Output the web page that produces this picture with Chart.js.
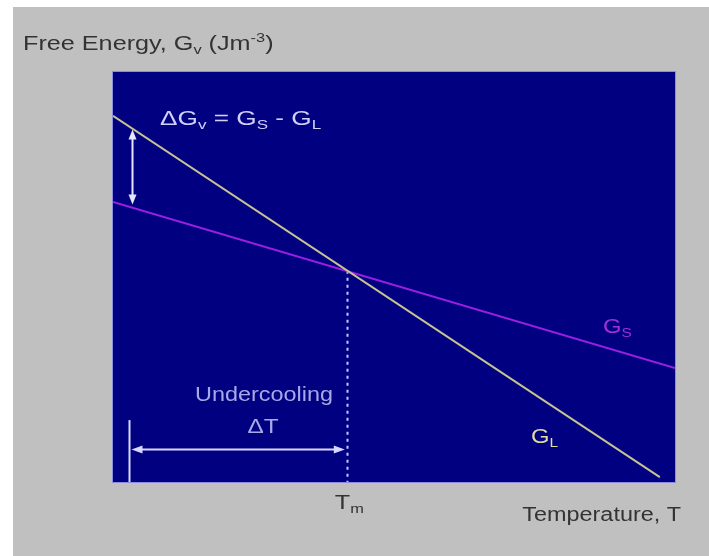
<!DOCTYPE html>
<html>
<head>
<meta charset="utf-8">
<script src="https://cdn.jsdelivr.net/npm/chart.js@4/dist/chart.umd.min.js"></script>
<style>
  html, body { margin: 0; padding: 0; background: #ffffff; }
  canvas { display: block; }
</style>
</head>
<body>
<canvas id="c" width="709" height="556"></canvas>
<script>
// ---- data (temperature axis 0..100, free energy axis 0..100, arbitrary units) ----
const liquidT = [0, 97.3];
const liquidG = [89.3, 1.2];
const solidT = [0, 100];
const solidG = [68.3, 27.8];
const meltingT = 41.6;          // Tm
const meltingG = 51.5;          // G at Tm (where the two lines cross)
const undercoolT = 2.85;        // temperature of the undercooled state
const deltaGT = 3.4;            // temperature at which ΔGv arrow is drawn
const axisLabels = { y: 'Free Energy, ', x: 'Temperature, T' };

const toPts = (xs, ys) => xs.map((x, i) => ({ x: x, y: ys[i] }));
const lineAt = (xs, ys, t) => ys[0] + (ys[1] - ys[0]) * (t - xs[0]) / (xs[1] - xs[0]);

const FONT = '"Liberation Sans", Arial, sans-serif';

function rich(ctx, parts, x, y, align, color, size, k) {
  k = k || 1;
  const sub = Math.round(size * 0.66);
  let w = 0;
  parts.forEach(p => {
    ctx.font = (p.s ? sub : size) + 'px ' + FONT;
    p.w = ctx.measureText(p.t).width * k;
    w += p.w;
  });
  let cx = align === 'center' ? x - w / 2 : (align === 'right' ? x - w : x);
  ctx.fillStyle = color;
  ctx.textAlign = 'left';
  ctx.textBaseline = 'alphabetic';
  parts.forEach(p => {
    ctx.font = (p.s ? sub : size) + 'px ' + FONT;
    let dy = 0;
    if (p.s === 'sub') dy = size * 0.22;
    if (p.s === 'sup') dy = -size * 0.42;
    ctx.save();
    ctx.translate(cx, y + dy);
    ctx.scale(k, 1);
    ctx.fillText(p.t, 0, 0);
    ctx.restore();
    cx += p.w;
  });
}

function arrowHead(ctx, x, y, dx, dy, len, half) {
  const px = -dy, py = dx;
  ctx.beginPath();
  ctx.moveTo(x, y);
  ctx.lineTo(x - dx * len + px * half, y - dy * len + py * half);
  ctx.lineTo(x - dx * len - px * half, y - dy * len - py * half);
  ctx.closePath();
  ctx.fill();
}

const decor = {
  id: 'decor',
  beforeDraw(chart) {
    const ctx = chart.ctx, a = chart.chartArea;
    ctx.save();
    ctx.fillStyle = '#ffffff';
    ctx.fillRect(0, 0, chart.width, chart.height);
    ctx.fillStyle = '#c0c0c0';
    ctx.fillRect(13, 7, chart.width - 13, chart.height - 7);
    ctx.fillStyle = '#000080';
    ctx.fillRect(a.left, a.top, a.right - a.left, a.bottom - a.top);
    ctx.restore();
  },
  beforeDatasetsDraw(chart) {
    const ctx = chart.ctx, xs = chart.scales.x, ys = chart.scales.y;
    const xm = Math.round(xs.getPixelForValue(meltingT)) + 0.5;
    ctx.save();
    ctx.strokeStyle = '#c8c8ff';
    ctx.lineWidth = 2;
    ctx.setLineDash([3, 4]);
    ctx.beginPath();
    ctx.moveTo(xm, ys.getPixelForValue(meltingG));
    ctx.lineTo(xm, ys.getPixelForValue(0));
    ctx.stroke();
    ctx.restore();
  },
  afterDraw(chart) {
    const ctx = chart.ctx, a = chart.chartArea, xs = chart.scales.x, ys = chart.scales.y;
    ctx.save();
    ctx.strokeStyle = '#8c8ce0';
    ctx.lineWidth = 1;
    ctx.strokeRect(a.left - 0.5, a.top - 0.5, a.right - a.left + 1, a.bottom - a.top + 1);

    // ΔGv arrow between lines
    const ax = Math.round(xs.getPixelForValue(deltaGT)) + 0.5;
    const yTop = ys.getPixelForValue(lineAt(liquidT, liquidG, deltaGT)) + 1;
    const yBot = ys.getPixelForValue(lineAt(solidT, solidG, deltaGT)) - 3;
    ctx.strokeStyle = '#e6e6ff';
    ctx.fillStyle = '#e6e6ff';
    ctx.lineWidth = 2;
    ctx.beginPath();
    ctx.moveTo(ax, yTop + 8);
    ctx.lineTo(ax, yBot - 8);
    ctx.stroke();
    arrowHead(ctx, ax, yTop, 0, -1, 10, 4);
    arrowHead(ctx, ax, yBot, 0, 1, 10, 4);

    // undercooling arrow
    const ux = Math.round(xs.getPixelForValue(undercoolT)) + 0.5;
    const mx = xs.getPixelForValue(meltingT);
    const uy = Math.round(ys.getPixelForValue(8.1)) + 0.5;
    ctx.strokeStyle = '#d8d8ff';
    ctx.fillStyle = '#d8d8ff';
    ctx.lineWidth = 2;
    ctx.beginPath();
    ctx.moveTo(ux, ys.getPixelForValue(15.1));
    ctx.lineTo(ux, ys.getPixelForValue(0));
    ctx.stroke();
    ctx.beginPath();
    ctx.moveTo(ux + 10, uy);
    ctx.lineTo(mx - 10, uy);
    ctx.stroke();
    arrowHead(ctx, ux + 2, uy, -1, 0, 11, 4);
    arrowHead(ctx, mx - 2, uy, 1, 0, 11, 4);

    // texts inside plot
    rich(ctx, [{t: 'ΔG'}, {t: 'v', s: 'sub'}, {t: ' = G'}, {t: 'S', s: 'sub'}, {t: ' - G'}, {t: 'L', s: 'sub'}],
         160, 125, 'left', '#d0d0f8', 20, 1.31);
    rich(ctx, [{t: 'Undercooling'}], 264, 401, 'center', '#a8a8e8', 20, 1.17);
    rich(ctx, [{t: 'ΔT'}], 263, 433, 'center', '#a8a8e8', 20, 1.22);
    rich(ctx, [{t: 'G'}, {t: 'S', s: 'sub'}], 603, 333, 'left', '#a030d8', 20, 1.19);
    rich(ctx, [{t: 'G'}, {t: 'L', s: 'sub'}], 531, 443, 'left', '#e0dca0', 20, 1.19);

    // axis texts
    rich(ctx, [{t: axisLabels.y + 'G'}, {t: 'v', s: 'sub'}, {t: ' (Jm'}, {t: '-3', s: 'sup'}, {t: ')'}],
         23, 50, 'left', '#333333', 20, 1.26);
    rich(ctx, [{t: 'T'}, {t: 'm', s: 'sub'}], mx - 12, 509, 'left', '#333333', 20, 1.26);
    rich(ctx, [{t: axisLabels.x}], 681, 521, 'right', '#333333', 20, 1.17);
    ctx.restore();
  }
};

new Chart(document.getElementById('c'), {
  type: 'scatter',
  data: {
    datasets: [
      { label: 'G_L', data: toPts(liquidT, liquidG), showLine: true, borderColor: '#c8c490', borderWidth: 2, pointRadius: 0 },
      { label: 'G_S', data: toPts(solidT, solidG), showLine: true, borderColor: '#9c1ee0', borderWidth: 2, pointRadius: 0 }
    ]
  },
  options: {
    responsive: false,
    animation: false,
    layout: { padding: { left: 113, top: 72, right: 34, bottom: 74 } },
    scales: {
      x: { type: 'linear', min: 0, max: 100, display: false },
      y: { type: 'linear', min: 0, max: 100, display: false }
    },
    plugins: { legend: { display: false }, tooltip: { enabled: false } }
  },
  plugins: [decor]
});
</script>
</body>
</html>
